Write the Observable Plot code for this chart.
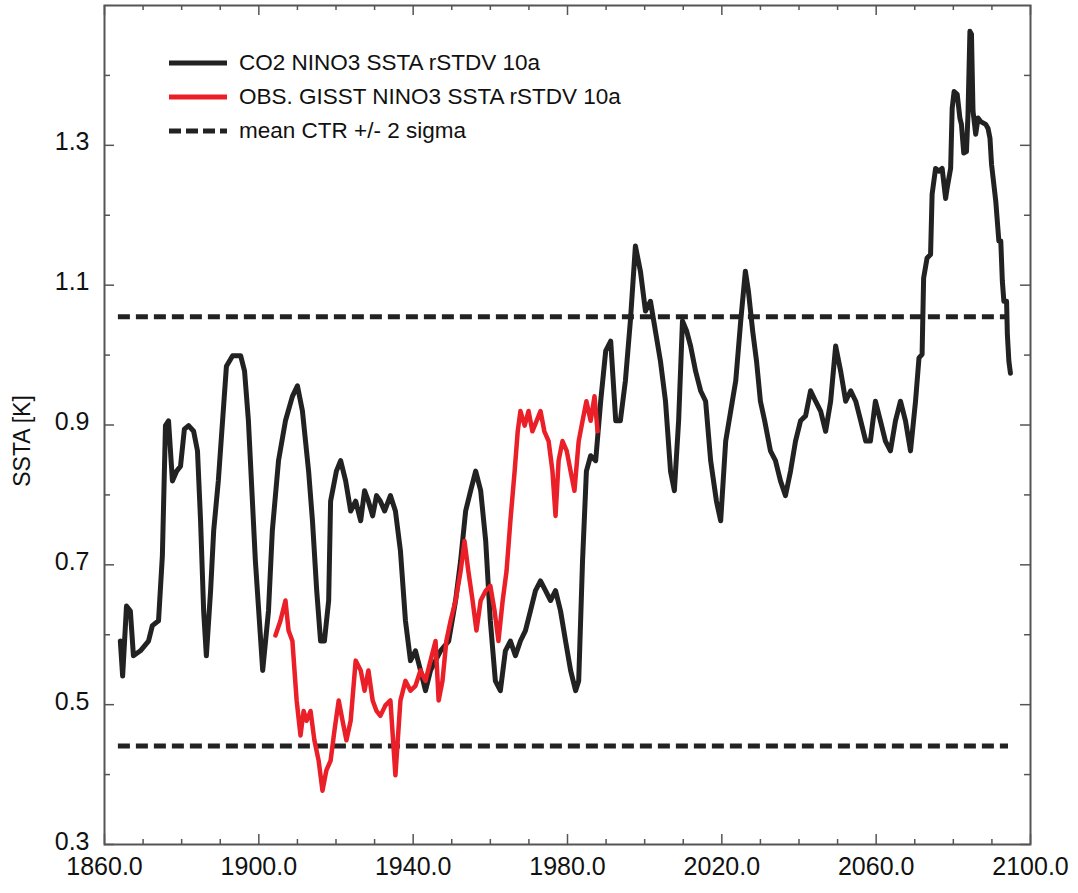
<!DOCTYPE html>
<html><head><meta charset="utf-8">
<script src="https://cdn.jsdelivr.net/npm/d3@7"></script>
<script src="https://cdn.jsdelivr.net/npm/@observablehq/plot@0.6"></script>
<style>
html,body{margin:0;padding:0;background:#fff;}
#wrap{position:relative;width:1078px;height:893px;font-family:"Liberation Sans",Arial,sans-serif;}
#legend{position:absolute;left:168px;top:46px;font-size:22.5px;color:#111;}
#legend .row{display:flex;align-items:center;height:34px;}
#legend svg{margin-right:11px;}
</style></head>
<body><div id="wrap"><div id="chart"></div><div id="legend"></div></div>
<script>
const co2Years = [1864.1,1864.7,1865.7,1866.7,1867.5,1869.3,1871.4,1872.4,1874.0,1875.0,1875.8,1876.6,1877.6,1878.7,1879.7,1880.7,1881.8,1883.1,1884.1,1884.9,1885.7,1886.4,1887.5,1888.3,1889.5,1890.6,1891.6,1893.2,1895.3,1896.3,1897.3,1899.1,1901.0,1902.5,1903.5,1905.1,1906.9,1908.7,1910.0,1911.3,1912.9,1913.9,1915.0,1916.0,1917.0,1918.1,1918.6,1920.1,1921.2,1922.5,1923.8,1925.1,1926.4,1927.4,1928.4,1929.5,1930.5,1931.5,1932.6,1934.1,1935.4,1936.7,1938.0,1939.3,1940.6,1941.9,1943.2,1944.5,1947.1,1949.2,1951.0,1952.3,1953.6,1954.9,1956.2,1957.5,1958.8,1960.0,1961.3,1962.6,1963.9,1965.2,1966.5,1967.8,1969.1,1970.4,1971.7,1973.0,1974.3,1975.6,1976.9,1978.2,1979.5,1980.8,1982.1,1982.9,1983.9,1984.9,1986.0,1987.3,1988.6,1989.9,1991.2,1992.5,1993.7,1995.0,1996.3,1997.6,1998.9,2000.2,2001.5,2002.8,2004.1,2005.4,2006.7,2007.7,2008.8,2009.8,2010.9,2011.9,2013.2,2014.5,2015.8,2017.1,2018.6,2019.7,2021.0,2022.3,2023.6,2024.9,2026.1,2026.9,2028.0,2029.0,2030.0,2031.1,2032.6,2033.9,2035.2,2036.5,2037.8,2039.1,2040.4,2041.7,2043.0,2044.3,2045.6,2046.9,2048.2,2049.5,2050.8,2052.1,2053.4,2054.7,2056.0,2057.3,2058.5,2059.8,2061.1,2062.4,2063.7,2065.0,2066.3,2067.6,2068.9,2070.2,2071.1,2071.9,2072.3,2073.2,2074.1,2074.5,2075.4,2076.3,2077.1,2078.0,2078.4,2079.3,2079.7,2080.2,2081.0,2081.7,2082.1,2082.7,2083.4,2083.8,2084.3,2084.7,2085.1,2085.8,2086.4,2087.1,2088.4,2089.0,2089.5,2089.9,2091.0,2091.8,2092.3,2092.7,2093.1,2093.8,2094.0,2094.4,2094.8];
const co2Values = [0.591,0.541,0.641,0.634,0.570,0.577,0.591,0.613,0.620,0.713,0.899,0.906,0.820,0.834,0.841,0.894,0.899,0.891,0.863,0.763,0.634,0.570,0.663,0.749,0.820,0.906,0.984,0.999,0.999,0.977,0.906,0.706,0.549,0.634,0.749,0.849,0.906,0.941,0.956,0.920,0.834,0.763,0.663,0.591,0.591,0.649,0.791,0.834,0.849,0.820,0.777,0.791,0.763,0.806,0.791,0.770,0.799,0.791,0.777,0.799,0.777,0.720,0.620,0.563,0.577,0.549,0.520,0.549,0.577,0.591,0.649,0.706,0.777,0.806,0.834,0.806,0.734,0.620,0.534,0.520,0.577,0.591,0.570,0.591,0.606,0.634,0.663,0.677,0.663,0.649,0.663,0.634,0.591,0.549,0.520,0.534,0.706,0.834,0.856,0.849,0.934,1.006,1.020,0.906,0.906,0.963,1.049,1.156,1.120,1.063,1.077,1.034,0.991,0.934,0.834,0.806,0.906,1.049,1.034,1.013,0.977,0.949,0.934,0.849,0.791,0.763,0.877,0.920,0.963,1.049,1.120,1.091,1.034,0.991,0.934,0.906,0.863,0.849,0.820,0.799,0.834,0.877,0.906,0.913,0.949,0.934,0.920,0.891,0.934,1.013,0.977,0.934,0.949,0.934,0.906,0.877,0.877,0.934,0.906,0.877,0.863,0.906,0.934,0.906,0.863,0.934,0.996,1.001,1.110,1.139,1.144,1.230,1.267,1.263,1.267,1.224,1.239,1.267,1.353,1.377,1.373,1.339,1.330,1.289,1.291,1.344,1.463,1.459,1.349,1.316,1.339,1.334,1.330,1.324,1.310,1.273,1.220,1.163,1.163,1.106,1.077,1.077,1.030,0.991,0.974];
const obsYears = [1904.3,1905.6,1906.9,1907.7,1908.7,1909.8,1910.8,1911.6,1912.4,1913.4,1914.4,1915.5,1916.5,1917.5,1918.6,1919.6,1920.7,1921.7,1922.7,1923.8,1925.1,1926.4,1927.4,1928.4,1929.5,1930.5,1931.5,1932.8,1934.1,1935.4,1936.7,1938.0,1939.3,1940.6,1941.9,1943.2,1944.5,1945.8,1946.6,1947.6,1948.6,1949.7,1951.0,1952.3,1953.3,1954.3,1955.4,1956.4,1957.5,1958.8,1960.0,1961.1,1962.1,1963.2,1964.2,1965.2,1966.3,1967.1,1967.8,1968.9,1969.9,1970.9,1972.0,1973.0,1974.0,1975.1,1976.1,1976.9,1977.7,1978.7,1979.8,1980.8,1981.8,1982.9,1983.9,1984.9,1986.0,1987.0,1987.8];
const obsValues = [0.599,0.620,0.649,0.606,0.591,0.506,0.456,0.491,0.477,0.491,0.449,0.420,0.377,0.406,0.420,0.463,0.506,0.477,0.449,0.477,0.563,0.549,0.520,0.549,0.506,0.491,0.484,0.499,0.506,0.399,0.506,0.534,0.520,0.527,0.549,0.534,0.563,0.591,0.506,0.534,0.591,0.620,0.649,0.691,0.734,0.691,0.649,0.606,0.649,0.663,0.670,0.634,0.591,0.649,0.691,0.763,0.834,0.891,0.920,0.899,0.920,0.891,0.906,0.920,0.891,0.877,0.834,0.770,0.849,0.877,0.863,0.834,0.806,0.877,0.906,0.934,0.906,0.941,0.891];
const ctrBounds = [0.441, 1.055];
const ctrSpan = [1863.6, 2094.3];
const xLabelTicks = [1860, 1900, 1940, 1980, 2020, 2060, 2100];
const xMinorTicks = [1870,1880,1890,1910,1920,1930,1950,1960,1970,1990,2000,2010,2030,2040,2050,2070,2080,2090];
const yLabelTicks = [0.3, 0.5, 0.7, 0.9, 1.1, 1.3];
const yMinorTicks = [0.4, 0.6, 0.8, 1.0, 1.2, 1.4];
const seriesNames = ["CO2 NINO3 SSTA rSTDV 10a", "OBS. GISST NINO3 SSTA rSTDV 10a", "mean CTR +/- 2 sigma"];
const yTitle = "SSTA [K]";

const W = 1078, H = 893, mL = 104, mR = 48, mT = 5, mB = 49;
const iW = W - mL - mR, iH = H - mT - mB;
const ink = "#222", red = "#ea1f27", frameCol = "#555";

const co2 = co2Years.map((x, i) => ({x, y: co2Values[i]}));
const obs = obsYears.map((x, i) => ({x, y: obsValues[i]}));

const chart = Plot.plot({
  width: W, height: H, marginLeft: mL, marginRight: mR, marginTop: mT, marginBottom: mB,
  x: {domain: [1860, 2100]},
  y: {domain: [0.3, 1.5]},
  style: {fontFamily: "'Liberation Sans', Arial, sans-serif", background: "#fff", color: "#111"},
  marks: [
    Plot.ruleY(ctrBounds, {y: d => d, x1: ctrSpan[0], x2: ctrSpan[1], stroke: ink, strokeWidth: 5, strokeDasharray: "12,6"}),
    Plot.line(co2, {x: "x", y: "y", stroke: ink, strokeWidth: 5, strokeLinejoin: "round"}),
    Plot.line(obs, {x: "x", y: "y", stroke: red, strokeWidth: 4.5, strokeLinejoin: "round"}),
    Plot.tickX(xLabelTicks, {x: d => d, insetTop: iH - 10, stroke: frameCol, strokeWidth: 1.5}),
    Plot.tickX(xMinorTicks, {x: d => d, insetTop: iH - 5, stroke: frameCol, strokeWidth: 1.5}),
    Plot.tickX(xLabelTicks, {x: d => d, insetBottom: iH - 10, stroke: frameCol, strokeWidth: 1.5}),
    Plot.tickX(xMinorTicks, {x: d => d, insetBottom: iH - 5, stroke: frameCol, strokeWidth: 1.5}),
    Plot.tickY(yLabelTicks, {y: d => d, insetRight: iW - 10, stroke: frameCol, strokeWidth: 1.5}),
    Plot.tickY(yMinorTicks, {y: d => d, insetRight: iW - 6, stroke: frameCol, strokeWidth: 1.5}),
    Plot.tickY(yLabelTicks, {y: d => d, insetLeft: iW - 10, stroke: frameCol, strokeWidth: 1.5}),
    Plot.tickY(yMinorTicks, {y: d => d, insetLeft: iW - 6, stroke: frameCol, strokeWidth: 1.5}),
    Plot.frame({stroke: frameCol, strokeWidth: 2}),
    Plot.axisX(xLabelTicks, {tickSize: 0, tickPadding: 13, tickFormat: d3.format(".1f"), fontSize: 25, label: null, fill: "#111"}),
    Plot.axisY(yLabelTicks, {tickSize: 0, tickPadding: 15, dy: -3, tickFormat: d => d.toFixed(1), fontSize: 25, label: null, fill: "#111"}),
    Plot.text([yTitle], {frameAnchor: "left", textAnchor: "middle", dx: -82, dy: 16, rotate: -90, fontSize: 23, fill: "#111"})
  ]
});
document.getElementById("chart").appendChild(chart);

const styles = [
  {stroke: ink, dash: null},
  {stroke: red, dash: null},
  {stroke: ink, dash: "12,5"}
];
const legend = document.getElementById("legend");
seriesNames.forEach((name, i) => {
  const row = document.createElement("div");
  row.className = "row";
  const s = styles[i];
  row.innerHTML = `<svg width="60" height="10"><line x1="1" y1="5" x2="59" y2="5" stroke="${s.stroke}" stroke-width="5" ${s.dash ? `stroke-dasharray="${s.dash}"` : ""}/></svg><span>${name}</span>`;
  legend.appendChild(row);
});
</script>
</body></html>
